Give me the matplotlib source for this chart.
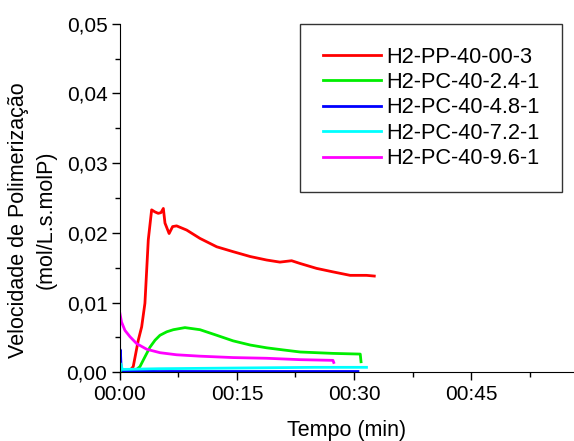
import matplotlib
matplotlib.use("Agg")
import matplotlib.pyplot as plt
from matplotlib.ticker import MultipleLocator, FuncFormatter
import numpy as np

plt.rcParams['font.family'] = ['Liberation Sans', 'DejaVu Sans']

# time in minutes, rate in mol/L.s.molP
t_pp = [0, 1.07, 1.7, 2.35, 2.78, 3.2, 3.63, 4.06, 4.49, 4.9, 5.26, 5.56, 5.77, 6.3, 6.75, 7.26,
        8.55, 10.26, 12.4, 14.5, 16.7, 18.8, 20.5, 22.0, 23.1, 25.2, 27.3, 29.5, 31.6, 32.6]
v_pp = [0, 0, 0.0008, 0.0046, 0.0065, 0.0099, 0.019, 0.0233, 0.023, 0.0228, 0.0229, 0.0235, 0.0214,
        0.0199, 0.0209, 0.021, 0.0204, 0.0192, 0.018, 0.0173, 0.0166, 0.0161, 0.0158, 0.016, 0.0156,
        0.0149, 0.0144, 0.0139, 0.0139, 0.0138]

t_24 = [0, 1.7, 2.56, 3.2, 3.85, 4.5, 5.13, 6.0, 6.84, 8.33, 10.26, 12.4, 14.5, 16.7, 18.8, 20.9,
        23.1, 25.2, 27.3, 30.8, 30.9]
v_24 = [0, 0, 0.0008, 0.0022, 0.0036, 0.0046, 0.0053, 0.0058, 0.0061, 0.0064, 0.0061, 0.0053,
        0.0045, 0.0039, 0.0035, 0.0032, 0.0029, 0.0028, 0.0027, 0.0026, 0.0015]

t_48 = [0, 0.05, 0.15, 0.4, 5, 15, 25, 30.5]
v_48 = [0.0005, 0.0032, 0.0006, 0.0002, 0.0001, 0.0001, 0.0001, 0.0001]

t_72 = [0, 0.1, 0.3, 5, 15, 25, 31.6]
v_72 = [0.0001, 0.0012, 0.0004, 0.0005, 0.0006, 0.0007, 0.0007]

t_96 = [0, 0.2, 0.64, 1.28, 2.14, 3.42, 5.13, 7.26, 10.26, 14.5, 18.8, 23.1, 27.3, 27.4]
v_96 = [0.0084, 0.0072, 0.006, 0.0051, 0.0041, 0.0033, 0.0028, 0.0025, 0.0023, 0.0021, 0.002,
        0.0018, 0.0017, 0.0014]

labels = ["H2-PP-40-00-3", "H2-PC-40-2.4-1", "H2-PC-40-4.8-1", "H2-PC-40-7.2-1", "H2-PC-40-9.6-1"]
colors = ["#ff0000", "#00ee00", "#0000ff", "#00ffff", "#ff00ff"]

fig = plt.figure(figsize=(5.74, 4.41), dpi=100)
ax = fig.add_axes([0.209, 0.156, 0.791, 0.79])

series = [(t_pp, v_pp), (t_24, v_24), (t_48, v_48), (t_72, v_72), (t_96, v_96)]
for (t, v), lab, c in zip(series, labels, colors):
    ax.plot(t, v, color=c, lw=2, label=lab)

ax.set_xlim(0, 58.2)
ax.set_ylim(0, 0.05)
ax.xaxis.set_major_locator(MultipleLocator(15))
ax.xaxis.set_minor_locator(MultipleLocator(7.5))
ax.yaxis.set_major_locator(MultipleLocator(0.01))
ax.yaxis.set_minor_locator(MultipleLocator(0.005))
ax.xaxis.set_major_formatter(FuncFormatter(lambda x, p: "00:%02d" % int(round(x))))
ax.yaxis.set_major_formatter(FuncFormatter(lambda y, p: ("%.2f" % y).replace(".", ",")))
ax.tick_params(which='major', length=5.5, labelsize=15, width=1, pad=3.5)
ax.tick_params(which='minor', length=3.5, width=1)
for s in ['top', 'right']:
    ax.spines[s].set_visible(False)

ax.set_xlabel("Tempo (min)", fontsize=15.5, labelpad=12)
ax.set_ylabel("Velocidade de Polimerização\n(mol/L.s.molP)", fontsize=15.5, linespacing=1.4)
ax.yaxis.set_label_coords(-0.139, 0.437)

leg = ax.legend(loc='upper left', bbox_to_anchor=(0.396, 1.0), fontsize=15.7, frameon=True,
                fancybox=False, edgecolor='black', handlelength=2.66, borderpad=1.05,
                labelspacing=0.2, handletextpad=0.25, borderaxespad=0)
leg.get_frame().set_linewidth(1)

fig.savefig("out.png", dpi=100)
